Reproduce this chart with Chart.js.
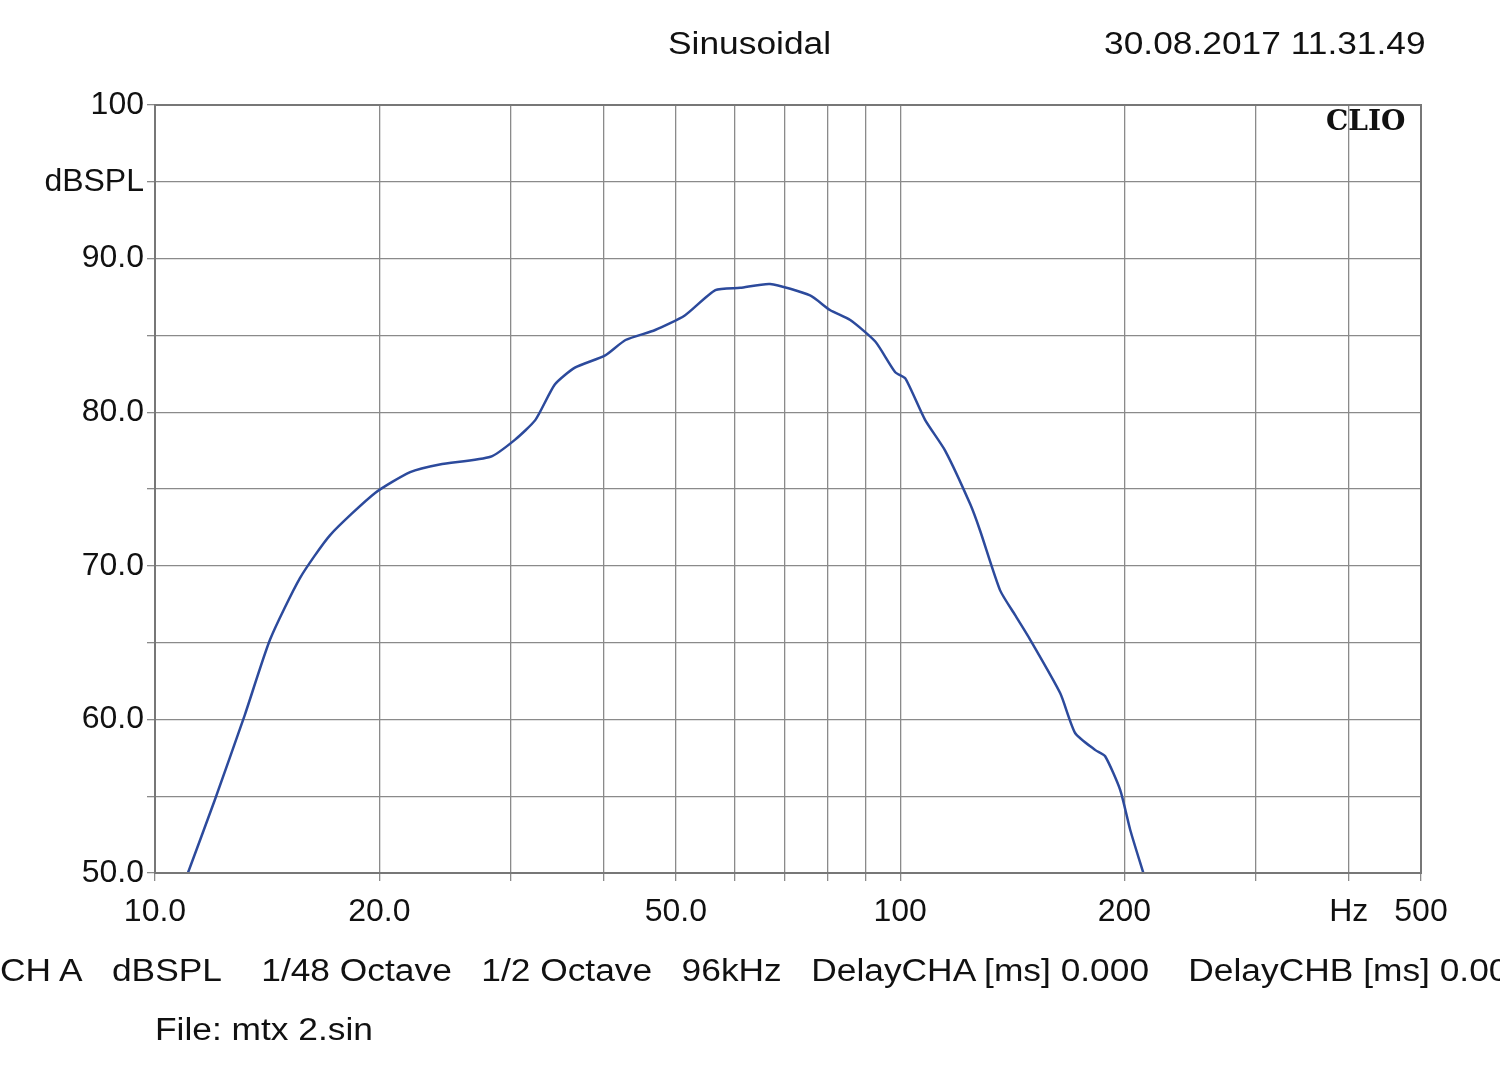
<!DOCTYPE html>
<html><head><meta charset="utf-8">
<script src="https://cdn.jsdelivr.net/npm/chart.js@4"></script>
<style>
body{margin:0;background:#fff;font-family:"Liberation Sans",Arial,sans-serif;}
.t{position:absolute;font-size:31px;color:#111;white-space:nowrap;transform:scaleX(1.14);transform-origin:left top;}
</style></head><body>
<canvas id="c" width="1500" height="1074" style="position:absolute;left:0;top:0"></canvas>
<div class="t" style="left:668px;top:26px">Sinusoidal</div>
<div class="t" style="left:1104px;top:26px">30.08.2017 11.31.49</div>
<div class="t" style="left:1326px;top:104px;font-family:'DejaVu Serif',serif;font-weight:bold;font-size:28px;transform:none">CLIO</div>
<div class="t" style="left:0px;top:953px">CH A&nbsp;&nbsp;&nbsp;dBSPL&nbsp;&nbsp;&nbsp;&nbsp;1/48 Octave&nbsp;&nbsp;&nbsp;1/2 Octave&nbsp;&nbsp;&nbsp;96kHz&nbsp;&nbsp;&nbsp;DelayCHA [ms] 0.000&nbsp;&nbsp;&nbsp;&nbsp;DelayCHB [ms] 0.000</div>
<div class="t" style="left:155px;top:1012px">File: mtx 2.sin</div>
<script>
const freqs = [11.07,12.03,13.2,14.27,15.65,17.18,19.74,22.0,24.1,28.2,30.4,32.4,34.4,36.6,40.2,42.8,46.9,51.4,56.5,61,66.9,75.7,80.5,85.7,92.6,98.5,101.6,108,114.9,124.2,128,136.2,142.6,149.4,164,171.8,182.8,188.4,197.4,203.6,212];
const spl = [50,54.75,60.3,65.2,69.2,72.0,74.74,76.1,76.6,77.1,78.2,79.5,81.8,82.9,83.7,84.7,85.35,86.3,87.95,88.1,88.35,87.6,86.65,86.0,84.6,82.6,82.2,79.5,77.5,74.0,72.3,68.4,66.8,65.2,61.7,59.1,58.0,57.6,55.4,52.8,50];
const xTicks = [10,20,30,40,50,60,70,80,90,100,200,300,400,500];
const xLabels = {10:'10.0',20:'20.0',50:'50.0',100:'100',200:'200',400:'Hz',500:'500'};
const yTicks = [50,55,60,65,70,75,80,85,90,95,100];
const yLabels = {50:'50.0',60:'60.0',70:'70.0',80:'80.0',90:'90.0',95:'dBSPL',100:'100'};

new Chart(document.getElementById('c'), {
  type: 'line',
  data: { datasets: [{
    data: freqs.map((f, i) => ({x: f, y: spl[i]})),
    borderColor: '#2c4a9c', borderWidth: 2.5, pointRadius: 0, tension: 0.2, fill: false
  }]},
  options: {
    responsive: false, animation: false,
    layout: { padding: { left: 0, top: 105, right: 79, bottom: 0 } },
    plugins: { legend: { display: false }, tooltip: { enabled: false } },
    scales: {
      x: {
        type: 'logarithmic', min: 10, max: 500,
        afterBuildTicks: s => { s.ticks = xTicks.map(v => ({value: v})); },
        afterFit: s => { s.height = 201; },
        ticks: { autoSkip: false, maxRotation: 0, padding: 12, color: '#111', font: { size: 32, family: 'Liberation Sans' },
          callback: v => xLabels[v] || '' },
        grid: { color: '#8a8a8a', lineWidth: 1.3, tickLength: 8 },
        border: { color: '#777', width: 2 }
      },
      y: {
        min: 50, max: 100,
        afterBuildTicks: s => { s.ticks = yTicks.map(v => ({value: v})); },
        afterFit: s => { s.width = 155; },
        ticks: { autoSkip: false, color: '#111', font: { size: 32, family: 'Liberation Sans' },
          callback: v => yLabels[v] || '' },
        grid: { color: '#8a8a8a', lineWidth: 1.3, tickLength: 8 },
        border: { color: '#777', width: 2 }
      }
    }
  },
  plugins: [{
    id: 'frame',
    afterDraw(c) {
      const a = c.chartArea, g = c.ctx;
      g.save(); g.strokeStyle = '#777'; g.lineWidth = 2;
      g.strokeRect(a.left, a.top, a.right - a.left, a.bottom - a.top); g.restore();
    }
  }]
});
</script>
</body></html>
